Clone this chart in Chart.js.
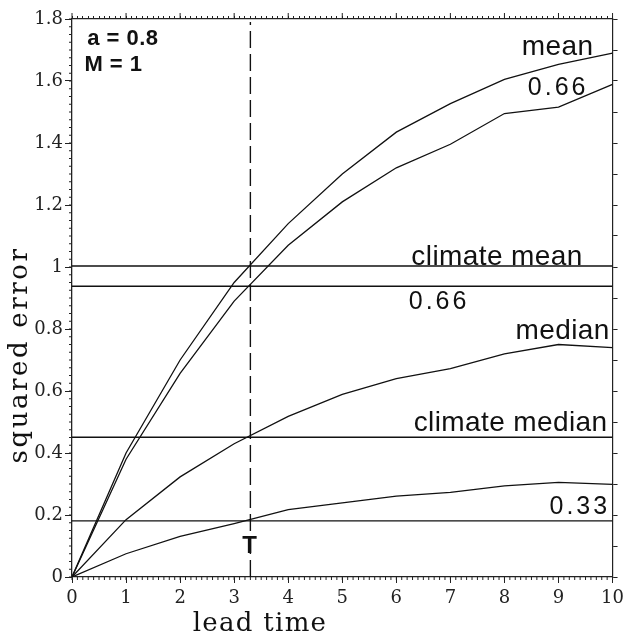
<!DOCTYPE html>
<html>
<head>
<meta charset="utf-8">
<script src="https://cdn.jsdelivr.net/npm/chart.js@4"></script>
<style>
  html, body { margin: 0; padding: 0; background: #fff; }
  canvas { display: block; }
</style>
</head>
<body>
<canvas id="chart" width="629" height="639"></canvas>
<script>
// lead time steps
const leadTime = [0, 1, 2, 3, 4, 5, 6, 7, 8, 9, 10];

// squared error curves
const meanErr   = [0, 0.40, 0.70, 0.95, 1.14, 1.30, 1.435, 1.527, 1.605, 1.654, 1.69];
const q66Err    = [0, 0.38, 0.657, 0.89, 1.07, 1.21, 1.32, 1.396, 1.495, 1.516, 1.589];
const medianErr = [0, 0.185, 0.323, 0.43, 0.518, 0.589, 0.64, 0.672, 0.72, 0.75, 0.74];
const q33Err    = [0, 0.075, 0.131, 0.172, 0.217, 0.239, 0.261, 0.273, 0.294, 0.305, 0.299];

// climatological reference levels
const refLevels = [1.003, 0.938, 0.451, 0.181];
const tLead = 3.3;
const yTicks = [0, 0.2, 0.4, 0.6, 0.8, 1, 1.2, 1.4, 1.6, 1.8];

// texts in the plot (value coords)
const labelFont = '28px "Liberation Sans"';
const numFont = '25px "Liberation Sans"';
const notes = [
  { text: 'a = 0.8', x: 0.28, y: 1.735, align: 'left', font: 'bold 22px "Liberation Sans"', sp: 0.5 },
  { text: 'M = 1', x: 0.23, y: 1.652, align: 'left', font: 'bold 22px "Liberation Sans"', sp: 0.5 },
  { text: 'mean', x: 9.64, y: 1.71, align: 'right', font: labelFont, sp: 0.4 },
  { text: '0.66', x: 9.5, y: 1.576, align: 'right', font: numFont, sp: 3 },
  { text: 'climate mean', x: 9.44, y: 1.032, align: 'right', font: labelFont, sp: 0.4 },
  { text: '0.66', x: 6.23, y: 0.887, align: 'left', font: numFont, sp: 3 },
  { text: 'median', x: 9.94, y: 0.794, align: 'right', font: labelFont, sp: 0.4 },
  { text: 'climate median', x: 9.9, y: 0.496, align: 'right', font: labelFont, sp: 0.4 },
  { text: '0.33', x: 9.9, y: 0.226, align: 'right', font: numFont, sp: 3 },
  { text: 'T', x: tLead - 0.015, y: 0.099, align: 'center', font: 'bold 24px "Liberation Sans"', sp: 0 },
];

const pts = ys => leadTime.map((x, i) => ({ x, y: ys[i] }));
const hline = v => [{ x: 0, y: v }, { x: 10, y: v }];

const lineDs = (data, extra) => Object.assign({
  data,
  borderColor: '#111',
  borderWidth: 1.3,
  pointRadius: 0,
  tension: 0,
  fill: false,
}, extra || {});

const datasets = [
  lineDs(pts(meanErr)),
  lineDs(pts(q66Err)),
  lineDs(pts(medianErr)),
  lineDs(pts(q33Err)),
  ...refLevels.map(v => lineDs(hline(v), { borderWidth: 1.4 })),
  lineDs([{ x: tLead, y: 0 }, { x: tLead, y: 1.79 }], { borderDash: [17, 6], borderWidth: 1.4 }),
];

// little ticks that chart.js can't do with one tickLength
function drawTicks(ctx, scale, step, max, len, side) {
  const n = Math.round(max / step);
  ctx.beginPath();
  for (let i = 0; i <= n; i++) {
    const p = scale.getPixelForValue(i * step);
    if (side === 'left')   { ctx.moveTo(scale.right, p); ctx.lineTo(scale.right - len, p); }
    if (side === 'bottom') { ctx.moveTo(p, scale.top); ctx.lineTo(p, scale.top + len); }
    if (side === 'top')    { ctx.moveTo(p, scale.bottom); ctx.lineTo(p, scale.bottom - len); }
  }
  ctx.stroke();
}

const decorPlugin = {
  id: 'decor',
  afterDraw(chart) {
    const { ctx, scales } = chart;
    ctx.save();
    ctx.strokeStyle = '#222';
    ctx.lineWidth = 1;
    drawTicks(ctx, scales.y, 0.025, 1.8, 3, 'left');
    drawTicks(ctx, scales.x, 0.1, 10, 3, 'bottom');
    drawTicks(ctx, scales.x2, 1, 10, 6, 'top');

    // texts (right aligned ones get back the trailing letter spacing)
    ctx.fillStyle = '#111';
    ctx.textBaseline = 'middle';
    notes.forEach(n => {
      ctx.font = n.font;
      ctx.letterSpacing = n.sp + 'px';
      ctx.textAlign = n.align;
      const dx = n.align === 'right' ? n.sp : 0;
      ctx.fillText(n.text, scales.x.getPixelForValue(n.x) + dx, scales.y.getPixelForValue(n.y));
    });

    // axis titles
    ctx.textBaseline = 'alphabetic';
    ctx.textAlign = 'center';
    ctx.font = '26px "DejaVu Serif"';
    ctx.letterSpacing = '1.3px';
    ctx.fillText('lead time', 260, 631);
    ctx.save();
    ctx.translate(27, 355);
    ctx.rotate(-Math.PI / 2);
    ctx.letterSpacing = '2.6px';
    ctx.fillText('squared error', 0, 0);
    ctx.restore();
    ctx.restore();
  }
};

const axisColor = '#222';

new Chart(document.getElementById('chart'), {
  type: 'line',
  data: { datasets },
  options: {
    responsive: false,
    animation: false,
    events: [],
    layout: { padding: 0 },
    plugins: { legend: { display: false }, tooltip: { enabled: false } },
    scales: {
      x: {
        type: 'linear', position: 'bottom', min: 0, max: 10,
        ticks: { stepSize: 1, color: '#222', font: { family: 'DejaVu Serif', size: 18 }, padding: 5, maxRotation: 0 },
        grid: { drawOnChartArea: false, tickLength: 6, color: axisColor },
        border: { color: axisColor, width: 1.3 },
        afterFit: s => { s.height = 62; },
      },
      x2: {
        type: 'linear', position: 'top', min: 0, max: 10, display: true,
        ticks: { display: false, stepSize: 0.1 },
        grid: { drawOnChartArea: false, tickLength: 3, color: axisColor },
        border: { color: axisColor, width: 1.3 },
        afterFit: s => { s.height = 19; },
      },
      y: {
        type: 'linear', position: 'left', min: 0, max: 1.8,
        afterBuildTicks: s => { s.ticks = yTicks.map(v => ({ value: v })); },
        ticks: {
          color: '#222', font: { family: 'DejaVu Serif', size: 18 }, padding: 2,
          callback: v => String(Number(v.toFixed(1))),
        },
        grid: { drawOnChartArea: false, tickLength: 7, color: axisColor },
        border: { color: axisColor, width: 1.3 },
        afterFit: s => { s.width = 72; },
      },
      y2: {
        type: 'linear', position: 'right', min: 0, max: 1.8, display: true,
        ticks: { display: false, stepSize: 0.1 },
        grid: { drawOnChartArea: false, tickLength: 5, color: axisColor },
        border: { color: axisColor, width: 1.2 },
        afterFit: s => { s.width = 10; },
      },
    },
  },
  plugins: [decorPlugin],
});
</script>
</body>
</html>
